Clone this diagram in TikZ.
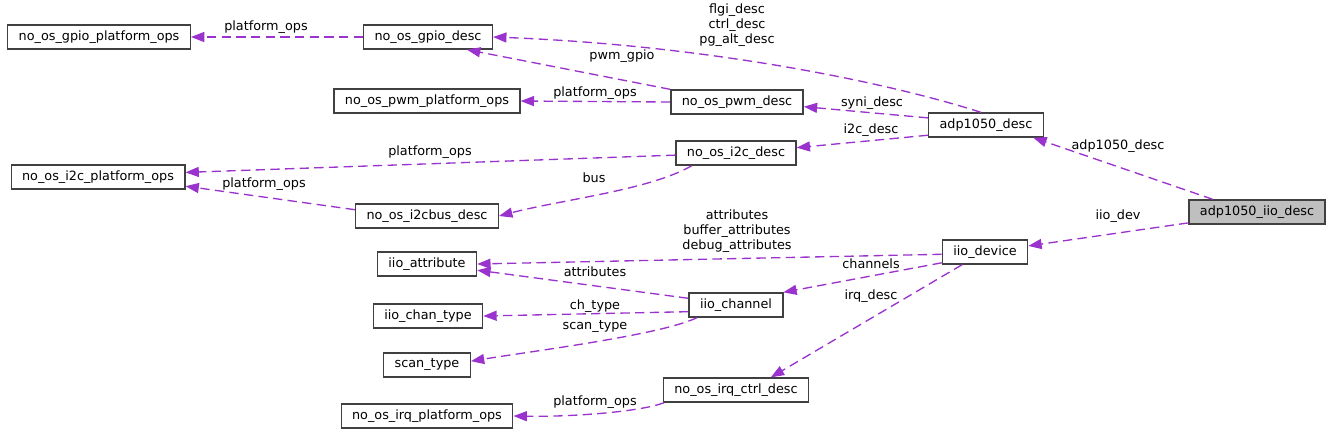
\documentclass[tikz,border=0pt]{standalone}
\usepackage{fontspec}
\setmainfont{DejaVu Sans}
\usetikzlibrary{arrows.meta}

\definecolor{edgepurple}{HTML}{9A32CD}
\definecolor{rootgray}{HTML}{BFBFBF}

\begin{document}
\begin{tikzpicture}[x=0.75pt,y=-0.75pt,
    font=\fontsize{9.6}{11.25}\selectfont,
    cls/.style={draw=black!75,line width=1pt,fill=white,minimum height=18pt,inner xsep=8.2pt,inner ysep=0pt},
    root/.style={cls,fill=rootgray},
    uses/.style={draw=edgepurple,line width=1pt,dash pattern=on 7pt off 4pt,
      -{Triangle[length=10pt,width=7.5pt,fill=edgepurple]}},
    lbl/.style={inner sep=0pt,align=center}]
  \useasboundingbox (0,0) rectangle (1333,436);

  % classes
  \node[cls] (gpioplat) at (99,37) {no\_os\_gpio\_platform\_ops};
  \node[cls] (gpiodesc) at (428,37) {no\_os\_gpio\_desc};
  \node[cls] (pwmplat) at (427,101) {no\_os\_pwm\_platform\_ops};
  \node[cls] (pwmdesc) at (737,102) {no\_os\_pwm\_desc};
  \node[cls] (adpdesc) at (986,125) {adp1050\_desc};
  \node[cls] (i2cdesc) at (736,153) {no\_os\_i2c\_desc};
  \node[cls] (i2cplat) at (98,177) {no\_os\_i2c\_platform\_ops};
  \node[cls] (i2cbus) at (427,216) {no\_os\_i2cbus\_desc};
  \node[root] (iiodesc) at (1257,212) {adp1050\_iio\_desc};
  \node[cls] (iiodev) at (985,252) {iio\_device};
  \node[cls] (iioattr) at (427,264) {iio\_attribute};
  \node[cls] (iiochan) at (736,305) {iio\_channel};
  \node[cls] (chantype) at (428,316) {iio\_chan\_type};
  \node[cls] (scantype) at (427,365) {scan\_type};
  \node[cls] (irqctrl) at (736,390) {no\_os\_irq\_ctrl\_desc};
  \node[cls] (irqplat) at (427,416) {no\_os\_irq\_platform\_ops};

  % members
  \draw[uses] (gpiodesc.west) -- (gpioplat.east);
  \draw[uses] (adpdesc.112) .. controls (880,80) and (700,45) .. (gpiodesc.east);
  \draw[uses] (pwmdesc.north west) -- (gpiodesc.-18);
  \draw[uses] (pwmdesc.west) -- (pwmplat.east);
  \draw[uses] (adpdesc.173) -- (pwmdesc.-4);
  \draw[uses] (adpdesc.190) -- (i2cdesc.5);
  \draw[uses] (i2cdesc.182) -- (i2cplat.3);
  \draw[uses] (i2cdesc.196) .. controls (650,190) and (560,200) .. (i2cbus.east);
  \draw[uses] (i2cbus.175) -- (i2cplat.-6);
  \draw[uses] (iiodesc.164) -- (adpdesc.-15);
  \draw[uses] (iiodesc.189) -- (iiodev.8);
  \draw[uses] (iiodev.183) -- (iioattr.east);
  \draw[uses] (iiodev.194) -- (iiochan.15);
  \draw[uses] (iiodev.209) -- (irqctrl.20);
  \draw[uses] (iiochan.172) -- (iioattr.-7);
  \draw[uses] (iiochan.188) -- (chantype.east);
  \draw[uses] (iiochan.198) .. controls (660,335) and (540,350) .. (scantype.5);
  \draw[uses] (irqctrl.190) .. controls (640,412) and (570,417) .. (irqplat.east);

  % labels
  \node[lbl] (lgpioplat) at (266,27) {platform\_ops};
  \node[lbl] (lgpiodesc) at (737,25) {flgi\_desc\\ctrl\_desc\\pg\_alt\_desc};
  \node[lbl] (lpwmgpio) at (622,56) {pwm\_gpio};
  \node[lbl] (lpwmplat) at (595,93) {platform\_ops};
  \node[lbl] (lsyni) at (872,103) {syni\_desc};
  \node[lbl] (li2cdesc) at (871,130) {i2c\_desc};
  \node[lbl] (li2cplat) at (430,152) {platform\_ops};
  \node[lbl] (lbus) at (594,178) {bus};
  \node[lbl] (lbusplat) at (264,184) {platform\_ops};
  \node[lbl] (ladp) at (1118,146) {adp1050\_desc};
  \node[lbl] (liiodev) at (1118,216) {iio\_dev};
  \node[lbl] (ldevattr) at (737,231) {attributes\\buffer\_attributes\\debug\_attributes};
  \node[lbl] (lchan) at (871,264) {channels};
  \node[lbl] (lirq) at (871,296) {irq\_desc};
  \node[lbl] (lchanattr) at (595,272) {attributes};
  \node[lbl] (lchtype) at (595,306) {ch\_type};
  \node[lbl] (lscan) at (595,327) {scan\_type};
  \node[lbl] (lirqplat) at (595,402) {platform\_ops};
\end{tikzpicture}
\end{document}
